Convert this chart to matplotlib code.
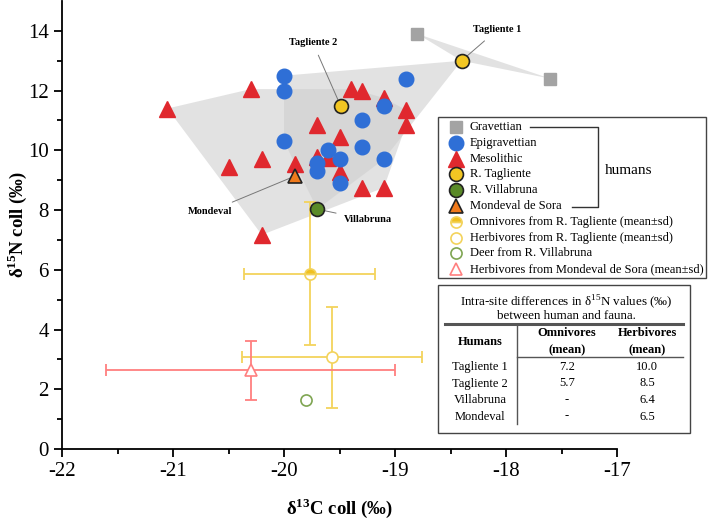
import matplotlib
matplotlib.use("Agg")
import matplotlib.pyplot as plt
from matplotlib.lines import Line2D
from matplotlib.patches import Polygon, Rectangle

plt.rcParams['font.family'] = ['Liberation Serif', 'DejaVu Serif']
plt.rcParams['mathtext.fontset'] = 'custom'
plt.rcParams['mathtext.rm'] = 'Liberation Serif'
plt.rcParams['mathtext.bf'] = 'Liberation Serif:bold'
plt.rcParams['axes.unicode_minus'] = False

# humans, d13C / d15N
grav_c = [-18.80, -17.60]
grav_n = [13.9, 12.4]

epi_c = [-20.0, -20.0, -18.9, -19.1, -19.3, -20.0, -19.3, -19.6, -19.5, -19.1, -19.7, -19.7, -19.5]
epi_n = [12.5, 12.0, 12.4, 11.5, 11.0, 10.3, 10.1, 10.0, 9.7, 9.7, 9.57, 9.3, 8.9]

meso_c = [-21.05, -20.3, -19.4, -19.3, -19.1, -18.9, -18.9, -19.7, -19.5, -19.6, -19.7,
          -19.5, -20.2, -20.5, -19.9, -19.3, -19.1, -20.2]
meso_n = [11.4, 12.05, 12.05, 11.97, 11.75, 11.35, 10.85, 10.85, 10.46, 9.73, 9.79,
          9.27, 9.7, 9.45, 9.54, 8.75, 8.75, 7.17]

tagl_c = [-18.40, -19.49]
tagl_n = [13.0, 11.49]
villa_c, villa_n = -19.7, 8.03
mond_c, mond_n = -19.9, 9.14

# fauna (mean, sd)
omni_c, omni_n, omni_sc, omni_sn = -19.77, 5.87, 0.59, 2.39
herb_t_c, herb_t_n, herb_t_sc, herb_t_sn = -19.57, 3.07, 0.81, 1.69
herb_m_c, herb_m_n, herb_m_sc, herb_m_sn = -20.3, 2.63, 1.3, 1.0
deer_c, deer_n = -19.8, 1.63

table_rows = ["Tagliente 1", "Tagliente 2", "Villabruna", "Mondeval"]
table_omni = ["7.2", "5.7", "-", "-"]
table_herb = ["10.0", "8.5", "6.4", "6.5"]


def hull(xs, ys):
    pts = sorted(set(zip(xs, ys)))

    def cross(o, a, b):
        return (a[0] - o[0]) * (b[1] - o[1]) - (a[1] - o[1]) * (b[0] - o[0])
    lower, upper = [], []
    for p in pts:
        while len(lower) >= 2 and cross(lower[-2], lower[-1], p) <= 0:
            lower.pop()
        lower.append(p)
    for p in reversed(pts):
        while len(upper) >= 2 and cross(upper[-2], upper[-1], p) <= 0:
            upper.pop()
        upper.append(p)
    return lower[:-1] + upper[:-1]


W, H = 709, 521
fig = plt.figure(figsize=(W / 100, H / 100), dpi=100)
ax = fig.add_axes([62 / W, 1 - 449 / H, 555 / W, 448 / H])

hull_kw = dict(facecolor='#cfcfcf', edgecolor='none', alpha=0.6, zorder=1)
ax.add_patch(Polygon(hull(meso_c, meso_n), **hull_kw))
ax.add_patch(Polygon(hull(epi_c + tagl_c + [villa_c], epi_n + tagl_n + [villa_n]), **hull_kw))
ax.add_patch(Polygon(hull(grav_c + tagl_c[:1], grav_n + tagl_n[:1]), **hull_kw))

yel_e = '#f3d35c'
red_e = '#ff7f7f'
ax.errorbar(omni_c, omni_n, xerr=omni_sc, yerr=omni_sn, fmt='none', ecolor=yel_e,
            elinewidth=1.3, capsize=4, capthick=1.3, zorder=2)
ax.errorbar(herb_t_c, herb_t_n, xerr=herb_t_sc, yerr=herb_t_sn, fmt='none', ecolor=yel_e,
            elinewidth=1.3, capsize=4, capthick=1.3, zorder=2)
ax.errorbar(herb_m_c, herb_m_n, xerr=herb_m_sc, yerr=herb_m_sn, fmt='none', ecolor=red_e,
            elinewidth=1.3, capsize=4, capthick=1.3, zorder=2)

omni_kw = dict(marker='o', ms=8, fillstyle='top', markerfacecolor='#f0c020',
               markerfacecoloralt='white', markeredgecolor=yel_e, mew=1.2, ls='none')
herb_t_kw = dict(marker='o', ms=8, mfc='white', mec=yel_e, mew=1.2, ls='none')
deer_kw = dict(marker='o', ms=8, mfc='none', mec='#7fa552', mew=1.2, ls='none')
herb_m_kw = dict(marker='^', ms=9, mfc='white', mec=red_e, mew=1.2, ls='none')
grav_kw = dict(marker='s', ms=8, mfc='#a3a3a3', mec='#a3a3a3', ls='none')
epi_kw = dict(marker='o', ms=10.5, mfc='#2f6fd6', mec='#2f6fd6', ls='none')
meso_kw = dict(marker='^', ms=11, mfc='#e0282e', mec='#e0282e', ls='none')
tagl_kw = dict(marker='o', ms=10, mfc='#f2c623', mec='#222222', mew=1.2, ls='none')
villa_kw = dict(marker='o', ms=10, mfc='#5a8a28', mec='#222222', mew=1.2, ls='none')
mond_kw = dict(marker='^', ms=10, mfc='#f07a1c', mec='#222222', mew=1.2, ls='none')

ax.plot(omni_c, omni_n, zorder=3, **omni_kw)
ax.plot(herb_t_c, herb_t_n, zorder=3, **herb_t_kw)
ax.plot(deer_c, deer_n, zorder=3, **deer_kw)
ax.plot(herb_m_c, herb_m_n, zorder=3, **herb_m_kw)
ax.plot(grav_c, grav_n, zorder=3, **grav_kw)
ax.plot(meso_c, meso_n, zorder=3, **meso_kw)
ax.plot(epi_c, epi_n, zorder=4, **epi_kw)
ax.plot(tagl_c, tagl_n, zorder=5, **tagl_kw)
ax.plot(villa_c, villa_n, zorder=5, **villa_kw)
ax.plot(mond_c, mond_n, zorder=5, **mond_kw)

ann_kw = dict(fontsize=7.5, fontweight='bold', ha='center', va='center',
              arrowprops=dict(arrowstyle='-', color='#777777', lw=0.7, shrinkA=4, shrinkB=0))
ax.annotate('Tagliente 1', xy=(tagl_c[0], tagl_n[0]), xytext=(-18.08, 14.03), **ann_kw)
ax.annotate('Tagliente 2', xy=(tagl_c[1], tagl_n[1]), xytext=(-19.74, 13.6), **ann_kw)
ax.annotate('Mondeval', xy=(mond_c, mond_n), xytext=(-20.67, 7.95), **ann_kw)
ax.annotate('Villabruna', xy=(villa_c, villa_n), xytext=(-19.24, 7.67), **ann_kw)

ax.set_xlim(-22, -17)
ax.set_ylim(0, 15)
ax.set_xticks([-22, -21, -20, -19, -18, -17])
ax.set_yticks(range(0, 15, 2))
ax.set_xticks([-21.5, -20.5, -19.5, -18.5, -17.5], minor=True)
ax.set_yticks(range(1, 15, 2), minor=True)
ax.spines['top'].set_visible(False)
ax.spines['right'].set_visible(False)
for s in ('left', 'bottom'):
    ax.spines[s].set_linewidth(1.3)
ax.tick_params(which='major', direction='out', length=6, width=1.3, labelsize=15)
ax.tick_params(which='minor', direction='out', length=3.5, width=1.3)
ax.set_xlabel('δ$^{\\mathbf{13}}$C coll (‰)', fontsize=13.5, fontweight='bold')
ax.set_ylabel('δ$^{\\mathbf{15}}$N coll (‰)', fontsize=13.5, fontweight='bold')
ax.xaxis.set_label_coords(0.5, (449 - 508) / 448)
ax.yaxis.set_label_coords((17 - 62) / 555, 0.5)
ax.xaxis.label.set_va('center')
ax.yaxis.label.set_va('center')


def fx(x):
    return x / W


def fy(y):
    return 1 - y / H


# legend box
fig.patches.append(Rectangle((fx(438), fy(278)), (706 - 438) / W, (278 - 117) / H,
                             transform=fig.transFigure, fill=True, facecolor='white',
                             edgecolor='#444444', lw=1.0, zorder=10))
legend_items = [
    (grav_kw, 'Gravettian'),
    (epi_kw, 'Epigravettian'),
    (meso_kw, 'Mesolithic'),
    (tagl_kw, 'R. Tagliente'),
    (villa_kw, 'R. Villabruna'),
    (mond_kw, 'Mondeval de Sora'),
    (omni_kw, 'Omnivores from R. Tagliente (mean±sd)'),
    (herb_t_kw, 'Herbivores from R. Tagliente (mean±sd)'),
    (deer_kw, 'Deer from R. Villabruna'),
    (herb_m_kw, 'Herbivores from Mondeval de Sora (mean±sd)'),
]
for i, (kw, lab) in enumerate(legend_items):
    y = 127 + i * 15.8
    fig.add_artist(Line2D([fx(456)], [fy(y)], transform=fig.transFigure, zorder=11, **kw))
    fig.text(fx(470), fy(y), lab, fontsize=9, va='center', ha='left', zorder=11)
fig.add_artist(Line2D([fx(530), fx(598), fx(598), fx(572)], [fy(127), fy(127), fy(207), fy(207)],
                      transform=fig.transFigure, color='#333333', lw=1.0, zorder=11))
fig.text(fx(605), fy(170), 'humans', fontsize=11, va='center', ha='left', zorder=11)

# table
fig.patches.append(Rectangle((fx(438), fy(433)), (690 - 438) / W, (433 - 285) / H,
                             transform=fig.transFigure, fill=True, facecolor='white',
                             edgecolor='#444444', lw=1.0, zorder=10))
fig.text(fx(566), fy(302), 'Intra-site differences in δ$^{15}$N values (‰)', fontsize=9.4,
         ha='center', va='center', zorder=11)
fig.text(fx(566), fy(316), 'between human and fauna.', fontsize=9.4, ha='center', va='center', zorder=11)
fig.add_artist(Line2D([fx(445), fx(683)], [fy(324), fy(324)], transform=fig.transFigure,
                      color='#555555', lw=2.2, zorder=11))
fig.add_artist(Line2D([fx(517), fx(683)], [fy(357), fy(357)], transform=fig.transFigure,
                      color='#555555', lw=1.0, zorder=11))
fig.add_artist(Line2D([fx(517), fx(517)], [fy(324), fy(424)], transform=fig.transFigure,
                      color='#555555', lw=1.0, zorder=11))
fig.text(fx(480), fy(342), 'Humans', fontsize=9, fontweight='bold', ha='center', va='center', zorder=11)
fig.text(fx(567), fy(333), 'Omnivores', fontsize=9, fontweight='bold', ha='center', va='center', zorder=11)
fig.text(fx(567), fy(350), '(mean)', fontsize=9, fontweight='bold', ha='center', va='center', zorder=11)
fig.text(fx(647), fy(333), 'Herbivores', fontsize=9, fontweight='bold', ha='center', va='center', zorder=11)
fig.text(fx(647), fy(350), '(mean)', fontsize=9, fontweight='bold', ha='center', va='center', zorder=11)
for i, (r, o, h) in enumerate(zip(table_rows, table_omni, table_herb)):
    y = 367 + i * 16.5
    fig.text(fx(480), fy(y), r, fontsize=9, ha='center', va='center', zorder=11)
    fig.text(fx(567), fy(y), o, fontsize=9, ha='center', va='center', zorder=11)
    fig.text(fx(647), fy(y), h, fontsize=9, ha='center', va='center', zorder=11)

fig.savefig('out.png', dpi=100)
